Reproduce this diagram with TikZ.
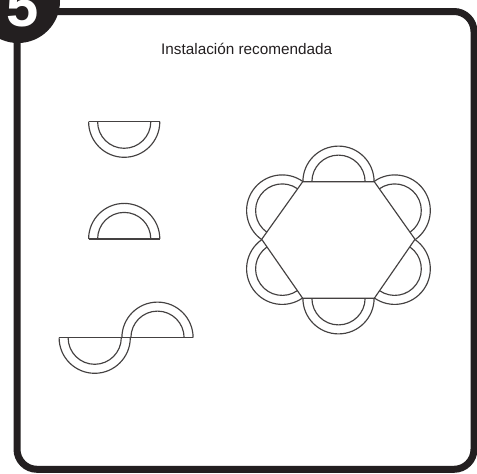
\documentclass[tikz,border=0pt]{standalone}
\usepackage{fontspec}
\setmainfont{Liberation Sans}
\definecolor{ink}{HTML}{231F20}
\tikzset{x=1pt,y=-1pt,
  thinline/.style={draw=ink!85,line width=1.15pt},
  framebox/.style={draw=ink,line width=7pt,rounded corners=20pt},
  badge/.style={fill=ink}}
% half ring: centre x, centre y, rotation of the base line
\newcommand{\halfring}[3]{%
  \begin{scope}[shift={(#1,#2)},rotate=#3]
    \draw[thinline] (-35.6,0) arc[start angle=180,end angle=0,x radius=35.6,y radius=-35.6];
    \draw[thinline] (-26.6,0) arc[start angle=180,end angle=0,x radius=26.6,y radius=-26.6];
  \end{scope}}
\begin{document}
\begin{tikzpicture}
\useasboundingbox (0,0) rectangle (477,474);
\fill[white] (0,0) rectangle (477,474);
\draw[framebox] (17,11.5) rectangle (474,469.3);
\begin{scope}
\clip (0,0) rectangle (477,474);
\fill[badge] (18,1) circle[radius=42];
\node[text=white,draw=white,line width=0pt,inner sep=0pt,draw opacity=0,font=\bfseries\fontsize{58pt}{58pt}\selectfont,anchor=base] (num) at (22.5,26) {5};
\end{scope}
\node[text=ink,font=\fontsize{15.3pt}{17pt}\selectfont,anchor=base] (title) at (246.7,54) {Instalación recomendada};
% single pieces
\draw[thinline] (88.5,121.7) -- (160,121.7);
\halfring{124.2}{121.7}{180}
\draw[thinline] (88.5,239) -- (160,239);
\halfring{124.2}{239}{0}
% pair
\draw[thinline] (59.3,337.7) -- (193.3,337.7);
\halfring{94.7}{337.7}{180}
\halfring{157.5}{337.7}{0}
% hexagon
\draw[thinline] (302.7,181.7) -- (374.3,181.7) -- (415,239.3) -- (374.3,298.3) -- (302.7,298.3) -- (261.7,239.3) -- cycle;
\halfring{338.5}{181.7}{0}
\halfring{338.5}{298.3}{180}
\halfring{282.2}{210.5}{54.6}
\halfring{394.7}{210.5}{-54.6}
\halfring{282.2}{268.8}{125.4}
\halfring{394.7}{268.8}{-125.4}
\end{tikzpicture}
\end{document}
